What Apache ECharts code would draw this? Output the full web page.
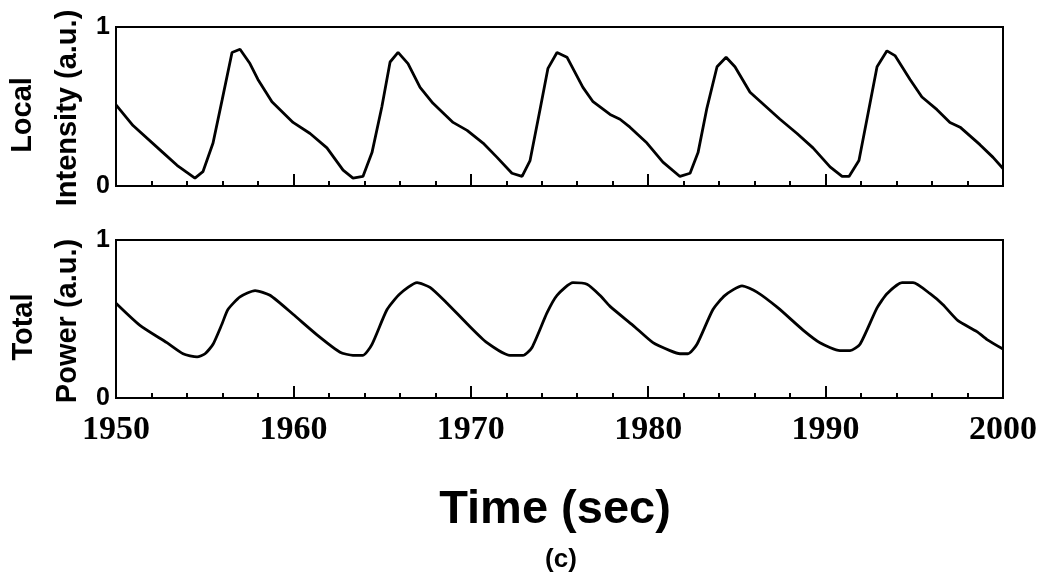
<!DOCTYPE html>
<html>
<head>
<meta charset="utf-8">
<script src="https://cdn.jsdelivr.net/npm/echarts@6/dist/echarts.min.js"></script>
<style>html,body{margin:0;padding:0;background:#fff;}#c{width:1050px;height:583px;}</style>
</head>
<body>
<div id="c"></div>
<script>
// ---- data ----
const localTime = [1950.0,1950.96,1952.65,1953.44,1954.45,1954.9,1955.47,1955.98,1956.54,1956.99,1957.55,1958.0,1958.79,1959.98,1960.94,1961.89,1962.8,1963.36,1963.92,1964.43,1964.99,1965.45,1965.9,1966.46,1967.14,1967.87,1969.0,1969.79,1970.69,1971.48,1972.32,1972.89,1973.34,1973.9,1974.35,1974.86,1975.42,1976.32,1976.89,1977.85,1978.41,1978.97,1979.93,1980.83,1981.79,1982.36,1982.81,1983.31,1983.88,1984.39,1984.89,1985.74,1987.43,1988.39,1989.29,1990.25,1990.93,1991.32,1991.88,1992.33,1992.9,1993.46,1993.91,1994.76,1995.43,1996.28,1997.01,1997.58,1998.7,1999.44,2000.0];
const localValue = [0.51,0.38,0.21,0.13,0.05,0.09,0.27,0.54,0.84,0.86,0.77,0.67,0.53,0.40,0.33,0.24,0.10,0.05,0.06,0.21,0.50,0.78,0.84,0.77,0.62,0.52,0.40,0.35,0.27,0.18,0.08,0.06,0.16,0.48,0.74,0.84,0.81,0.62,0.53,0.45,0.42,0.37,0.27,0.15,0.06,0.08,0.21,0.49,0.75,0.81,0.75,0.59,0.42,0.33,0.24,0.12,0.06,0.06,0.16,0.42,0.75,0.85,0.82,0.67,0.56,0.48,0.40,0.37,0.26,0.18,0.11];
const powerTime = [1950.0,1951.35,1952.87,1953.78,1954.57,1955.02,1955.47,1955.98,1956.31,1956.99,1957.84,1958.68,1959.98,1961.33,1962.63,1963.36,1963.92,1964.43,1965.28,1966.01,1966.97,1967.7,1968.66,1969.79,1970.91,1972.21,1972.94,1973.45,1974.3,1974.86,1975.76,1976.55,1977.28,1977.85,1979.14,1980.27,1981.23,1981.79,1982.24,1982.75,1983.65,1984.33,1985.29,1986.13,1987.32,1988.73,1989.68,1990.81,1991.38,1991.94,1992.9,1993.46,1994.31,1994.93,1995.89,1996.62,1997.46,1998.53,1999.1,2000.0];
const powerValue = [0.60,0.46,0.35,0.28,0.26,0.28,0.34,0.47,0.56,0.64,0.68,0.65,0.53,0.40,0.29,0.27,0.27,0.34,0.56,0.66,0.73,0.70,0.60,0.47,0.35,0.27,0.27,0.32,0.54,0.65,0.73,0.72,0.65,0.58,0.46,0.35,0.30,0.28,0.28,0.34,0.56,0.65,0.71,0.67,0.57,0.43,0.35,0.30,0.30,0.34,0.57,0.66,0.73,0.73,0.66,0.59,0.49,0.42,0.37,0.31];
const xMin = 1950, xMax = 2000, xStep = 10;
const yMin = 0, yMax = 1;
const topTitleLines = ['Local', 'Intensity (a.u.)'];
const bottomTitleLines = ['Total', 'Power (a.u.)'];
const xAxisTitle = 'Time (sec)';
const panelTag = '(c)';

const zip = (a, b) => a.map((v, i) => [v, b[i]]);

const chart = echarts.init(document.getElementById('c'), null, {renderer: 'canvas'});

function xAxisCfg(gridIndex, showLabels) {
  return {
    type: 'value', gridIndex, min: xMin, max: xMax, interval: xStep,
    axisLine: {show: true, lineStyle: {color: '#000', width: 2}},
    axisTick: {show: true, inside: true, length: 12, lineStyle: {color: '#000', width: 2}},
    minorTick: {show: true, splitNumber: 5, length: 5, lineStyle: {color: '#000', width: 2}},
    splitLine: {show: false},
    axisLabel: {
      show: showLabels, margin: 15, color: '#000',
      fontFamily: 'Liberation Serif', fontWeight: 'bold', fontSize: 34,
      formatter: v => String(v)
    }
  };
}
function yAxisCfg(gridIndex) {
  return {
    type: 'value', gridIndex, min: yMin, max: yMax, interval: 1,
    axisLine: {show: true, lineStyle: {color: '#000', width: 2}},
    axisTick: {show: false},
    splitLine: {show: false},
    axisLabel: {
      show: true, margin: 6, color: '#000',
      fontFamily: 'Liberation Sans', fontWeight: 'bold', fontSize: 25,
      padding: [12, 0, 0, 0]
    }
  };
}

const titleStyle = {fontFamily: 'Liberation Sans', fontWeight: 'bold', fontSize: 29, fill: '#000', align: 'center', verticalAlign: 'middle'};

chart.setOption({
  animation: false,
  backgroundColor: '#fff',
  grid: [
    {left: 116, right: 47, top: 27, height: 159, show: true, borderColor: '#000', borderWidth: 2, backgroundColor: 'transparent'},
    {left: 116, right: 47, top: 240, height: 158, show: true, borderColor: '#000', borderWidth: 2, backgroundColor: 'transparent'}
  ],
  xAxis: [xAxisCfg(0, false), xAxisCfg(1, true)],
  yAxis: [yAxisCfg(0), yAxisCfg(1)],
  series: [
    {type: 'line', xAxisIndex: 0, yAxisIndex: 0, data: zip(localTime, localValue), showSymbol: false, lineStyle: {color: '#000', width: 2.8}},
    {type: 'line', xAxisIndex: 1, yAxisIndex: 1, data: zip(powerTime, powerValue), showSymbol: false, smooth: 0.2, lineStyle: {color: '#000', width: 2.8}}
  ],
  graphic: [
    {type: 'text', x: 23, y: 115, rotation: Math.PI / 2, style: Object.assign({text: topTitleLines[0]}, titleStyle)},
    {type: 'text', x: 68, y: 108, rotation: Math.PI / 2, style: Object.assign({text: topTitleLines[1]}, titleStyle)},
    {type: 'text', x: 24, y: 327, rotation: Math.PI / 2, style: Object.assign({text: bottomTitleLines[0]}, titleStyle)},
    {type: 'text', x: 68, y: 321, rotation: Math.PI / 2, style: Object.assign({text: bottomTitleLines[1]}, titleStyle)},
    {type: 'text', x: 555, y: 510, style: {text: xAxisTitle, fontFamily: 'Liberation Sans', fontWeight: 'bold', fontSize: 47, fill: '#000', align: 'center', verticalAlign: 'middle'}},
    {type: 'text', x: 561, y: 560, style: {text: panelTag, fontFamily: 'Liberation Sans', fontWeight: 'bold', fontSize: 26, fill: '#000', align: 'center', verticalAlign: 'middle'}}
  ]
});
</script>
</body>
</html>
